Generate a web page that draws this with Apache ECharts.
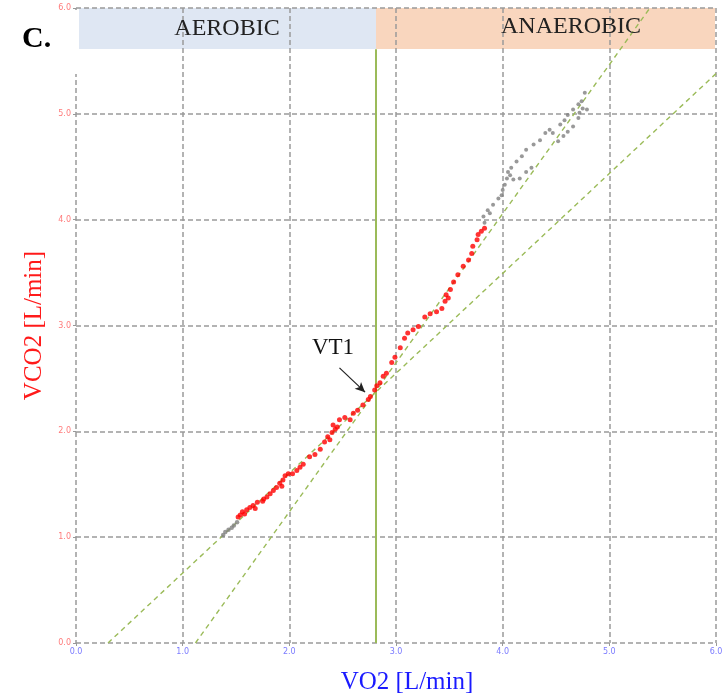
<!DOCTYPE html>
<html>
<head>
<meta charset="utf-8">
<script src="https://cdn.jsdelivr.net/npm/echarts@6/dist/echarts.min.js"></script>
<style>
  html, body { margin: 0; padding: 0; background: #fff; }
  #chart { width: 722px; height: 697px; }
</style>
</head>
<body>
<div id="chart"></div>
<script>
  // VO2 / VCO2 pairs, in L/min
  const grayStart = [
    [1.38, 1.02], [1.40, 1.05], [1.43, 1.07], [1.46, 1.09], [1.48, 1.11], [1.51, 1.14]
  ]
  const aerobicRed = [
    [1.52, 1.19], [1.54, 1.21], [1.56, 1.24], [1.58, 1.22], [1.60, 1.26], [1.63, 1.28],
    [1.66, 1.30], [1.68, 1.27], [1.70, 1.33], [1.75, 1.34], [1.76, 1.36], [1.79, 1.38],
    [1.82, 1.41], [1.85, 1.44], [1.88, 1.47], [1.91, 1.51], [1.93, 1.48], [1.94, 1.54],
    [1.96, 1.58], [1.99, 1.60], [2.03, 1.60], [2.07, 1.63], [2.10, 1.66], [2.13, 1.69],
    [2.19, 1.76], [2.24, 1.78], [2.29, 1.83], [2.33, 1.90], [2.36, 1.95], [2.38, 1.92],
    [2.40, 1.99], [2.41, 2.06], [2.43, 2.02], [2.45, 2.04], [2.47, 2.11], [2.52, 2.13],
    [2.57, 2.11], [2.60, 2.17], [2.64, 2.20], [2.69, 2.25], [2.74, 2.30], [2.76, 2.33],
    [2.80, 2.39], [2.82, 2.43], [2.85, 2.46], [2.88, 2.52], [2.91, 2.55], [2.96, 2.65],
    [2.99, 2.70], [3.04, 2.79], [3.08, 2.88], [3.11, 2.93], [3.16, 2.96], [3.21, 2.99],
    [3.27, 3.08], [3.32, 3.11], [3.38, 3.13], [3.43, 3.16], [3.46, 3.23], [3.47, 3.29],
    [3.49, 3.26], [3.51, 3.34], [3.54, 3.41], [3.58, 3.48], [3.63, 3.56], [3.68, 3.62],
    [3.71, 3.68], [3.72, 3.75], [3.76, 3.81], [3.77, 3.86], [3.80, 3.89], [3.83, 3.92]
  ]
  const grayEnd = [
    [3.83, 3.97], [3.82, 4.03], [3.88, 4.06], [3.86, 4.09], [3.91, 4.14], [3.96, 4.20],
    [3.99, 4.23], [4.00, 4.28], [4.02, 4.33], [4.04, 4.39], [4.05, 4.45], [4.08, 4.49],
    [4.13, 4.55], [4.18, 4.60], [4.22, 4.66], [4.29, 4.71], [4.35, 4.75], [4.40, 4.82],
    [4.44, 4.85], [4.47, 4.82], [4.54, 4.90], [4.58, 4.94], [4.61, 4.99], [4.66, 5.04],
    [4.71, 5.09], [4.74, 5.12], [4.75, 5.05], [4.79, 5.04], [4.72, 5.01], [4.77, 5.20],
    [4.07, 4.42], [4.10, 4.38], [4.16, 4.39], [4.22, 4.45], [4.27, 4.49], [4.52, 4.74],
    [4.57, 4.79], [4.61, 4.83], [4.66, 4.88], [4.71, 4.96]
  ]
  // regression lines below / above the threshold
  const fitAerobic = [[0.30, 0], [6.0, 5.38]]
  const fitAnaerobic = [[1.12, 0], [5.38, 6.0]]
  const vt1 = 2.81
  const vt1Arrow = [[2.47, 2.60], [2.71, 2.37]]
  const ticks = [0, 1, 2, 3, 4, 5, 6]

  const serif = '"Liberation Serif", "Times New Roman", serif'
  const fitStyle = {color: '#9bbb59', width: 1.4, type: [5, 4]}
  const gridStyle = {color: '#9a9a9a', width: 1.5, type: [5, 3]}

  let chart = echarts.init(document.getElementById('chart'))
  chart.setOption({
    animation: false,
    backgroundColor: '#fff',
    grid: {left: 76, right: 6, top: 8, bottom: 54, outerBoundsMode: 'none', containLabel: false},
    xAxis: {
      type: 'value', min: ticks[0], max: ticks[ticks.length - 1], interval: 1,
      name: 'VO2 [L/min]', nameLocation: 'middle', nameGap: 27,
      nameTextStyle: {color: '#1a1aff', fontFamily: serif, fontSize: 25, padding: [0, 0, 0, 22]},
      axisLine: {show: false},
      axisTick: {show: true, length: 3, lineStyle: {color: '#999'}},
      axisLabel: {color: '#7b7bff', fontSize: 8, margin: 5, fontFamily: 'DejaVu Sans',
        formatter: v => v.toFixed(1)},
      splitLine: {show: true, lineStyle: gridStyle}
    },
    yAxis: {
      type: 'value', min: ticks[0], max: ticks[ticks.length - 1], interval: 1,
      name: 'VCO2 [L/min]', nameLocation: 'middle', nameGap: 26, nameRotate: 90,
      nameTextStyle: {color: '#ff1a1a', fontFamily: serif, fontSize: 25},
      axisLine: {show: false},
      axisTick: {show: true, length: 3, lineStyle: {color: '#999'}},
      axisLabel: {color: '#ff7b7b', fontSize: 8, margin: 5, fontFamily: 'DejaVu Sans',
        formatter: v => v.toFixed(1)},
      splitLine: {show: true, lineStyle: gridStyle}
    },
    series: [
      {
        type: 'line', data: fitAerobic, symbol: 'none', lineStyle: fitStyle, z: 3
      },
      {
        type: 'line', data: fitAnaerobic, symbol: 'none', lineStyle: fitStyle, z: 3
      },
      {
        type: 'scatter', data: grayStart, symbolSize: 4.5, itemStyle: {color: '#808080'}, z: 4
      },
      {
        type: 'scatter', data: grayEnd, symbolSize: 4, itemStyle: {color: '#808080'}, z: 4
      },
      {
        type: 'scatter', data: aerobicRed, symbolSize: 5, itemStyle: {color: '#ff0000'}, z: 5,
        markLine: {
          silent: true,
          animation: false,
          label: {show: false},
          data: [
            [
              {coord: [vt1, 0], symbol: 'none', lineStyle: {color: '#9bbb59', width: 2, type: 'solid'}},
              {coord: [vt1, 5.61], symbol: 'none'}
            ],
            [
              {coord: vt1Arrow[0], symbol: 'none', lineStyle: {color: '#222', width: 1.2, type: 'solid'}},
              {coord: vt1Arrow[1], symbol: 'arrow', symbolSize: [7, 10]}
            ]
          ]
        }
      }
    ],
    graphic: [
      {type: 'rect', z: -10, shape: {x: 79, y: 8, width: 297, height: 41}, style: {fill: '#dfe7f3'}},
      {type: 'rect', z: -10, shape: {x: 376, y: 8, width: 339, height: 41}, style: {fill: '#f9d6be'}},
      {type: 'rect', z: 50, shape: {x: 71, y: 10, width: 7, height: 64}, style: {fill: '#fff'}},
      {type: 'text', z: 60, x: 227, y: 29, style: {text: 'AEROBIC', font: '24px ' + serif,
        fill: '#222', align: 'center', verticalAlign: 'middle'}},
      {type: 'text', z: 60, x: 571, y: 27, style: {text: 'ANAEROBIC', font: '24px ' + serif,
        fill: '#222', align: 'center', verticalAlign: 'middle'}},
      {type: 'text', z: 60, x: 22, y: 39, style: {text: 'C.', font: 'bold 30px ' + serif,
        fill: '#000', align: 'left', verticalAlign: 'middle'}},
      {type: 'text', z: 60, x: 333, y: 348, style: {text: 'VT1', font: '23px ' + serif,
        fill: '#111', align: 'center', verticalAlign: 'middle'}}
    ]
  })
</script>
</body>
</html>
